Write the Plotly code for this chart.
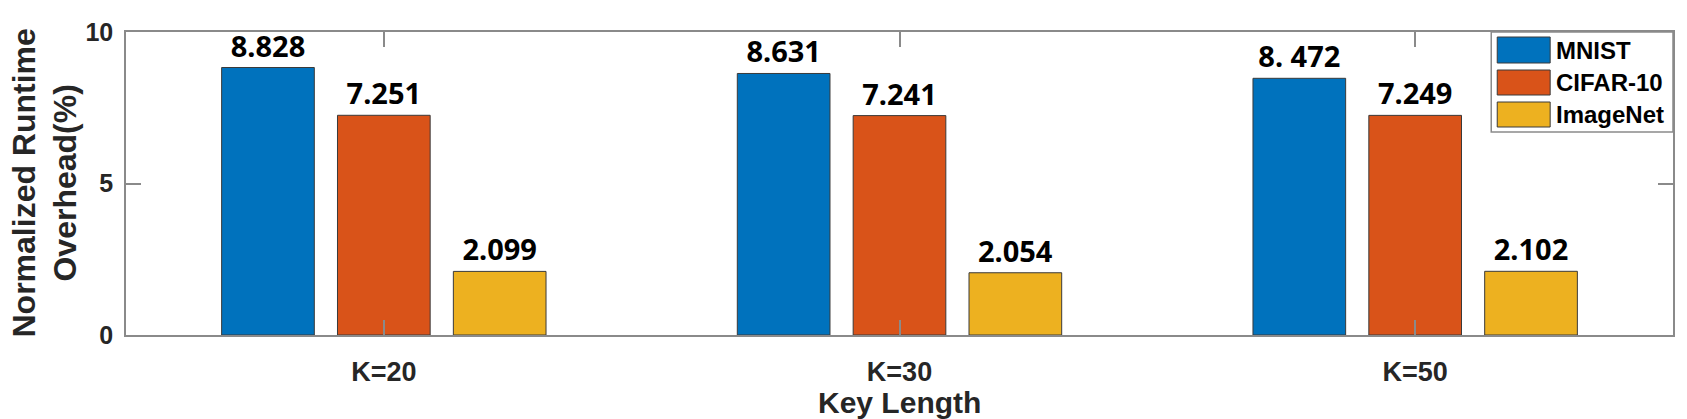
import plotly.graph_objects as go

categories = ["K=20", "K=30", "K=50"]
series_names = ["MNIST", "CIFAR-10", "ImageNet"]
mnist = [8.828, 8.631, 8.472]
cifar10 = [7.251, 7.241, 7.249]
imagenet = [2.099, 2.054, 2.102]
mnist_labels = ["8.828", "8.631", "8. 472"]
cifar10_labels = ["7.251", "7.241", "7.249"]
imagenet_labels = ["2.099", "2.054", "2.102"]
y_ticks = [0, 5, 10]

colors = ["#0072BD", "#D95319", "#EDB120"]

W, H = 1687, 419
L, R, T, B = 126, 1675, 32, 335  # plot area in pixels

def px_x(p):
    return (p - L) / (R - L)

def px_y(p):
    return (B - p) / (B - T)

fig = go.Figure()
xpos = [1, 2, 3]
for name, vals, labs, col in zip(series_names, [mnist, cifar10, imagenet],
                                 [mnist_labels, cifar10_labels, imagenet_labels], colors):
    fig.add_trace(go.Bar(
        x=xpos, y=vals, name=name, text=labs, textposition="outside",
        textfont=dict(family="Noto Sans", size=29, color="black", weight="bold"),
        marker=dict(color=col, line=dict(color="#3a3a3a", width=1)),
        cliponaxis=False, showlegend=False,
    ))

axis_common = dict(
    showline=True, linecolor="#8a8a8a", linewidth=1.5, mirror="ticks",
    ticks="inside", ticklen=15, tickwidth=1.5, tickcolor="#8a8a8a",
    showgrid=False, zeroline=False,
    tickfont=dict(family="Liberation Sans", size=25, color="#262626", weight="bold"),
)

fig.update_layout(
    width=W, height=H,
    margin=dict(l=L, r=W - R, t=T, b=H - B, pad=0),
    plot_bgcolor="white", paper_bgcolor="white",
    barmode="group", bargap=0.326, bargroupgap=0.2,
    xaxis=dict(**axis_common, range=[0.5, 3.5], tickmode="array",
               tickvals=xpos, ticktext=categories, ticklabelstandoff=12),
    yaxis=dict(**axis_common, range=[0, 10], tickmode="array",
               tickvals=y_ticks, ticktext=[str(v) for v in y_ticks], ticklabelstandoff=6),
)
fig.update_xaxes(tickfont=dict(size=27))

# axis titles
fig.add_annotation(text="<b>Key Length</b>", xref="paper", yref="paper",
                   x=0.5, y=0, yanchor="middle", yshift=-(402 - B), showarrow=False,
                   font=dict(family="Liberation Sans", size=30, color="#262626"))
fig.add_annotation(text="<b>Normalized Runtime<br>Overhead(%)</b>", xref="paper", yref="paper",
                   x=0, y=0.5, xanchor="center", yanchor="middle", xshift=44 - L,
                   textangle=-90, showarrow=False,
                   font=dict(family="Liberation Sans", size=32, color="#262626"))

# legend (manual, to match large swatches)
fig.add_shape(type="rect", xref="paper", yref="paper",
              x0=px_x(1493), x1=px_x(1675), y0=px_y(132), y1=px_y(32),
              line=dict(color="#8a8a8a", width=1.5), fillcolor="white", layer="above")
rows = [(37, 63), (70, 95), (102, 127)]
for (r0, r1), name, col in zip(rows, series_names, colors):
    fig.add_shape(type="rect", xref="paper", yref="paper",
                  x0=px_x(1499), x1=px_x(1552), y0=px_y(r1), y1=px_y(r0),
                  line=dict(color="#3a3a3a", width=1), fillcolor=col, layer="above")
    fig.add_annotation(text="<b>" + name + "</b>", xref="paper", yref="paper",
                       x=px_x(1556), y=px_y((r0 + r1) / 2), xanchor="left", yanchor="middle",
                       showarrow=False,
                       font=dict(family="Liberation Sans", size=24, color="black"))

fig.write_html("out.html", config={"displayModeBar": False},
               post_script="document.body.style.margin='0';document.body.style.overflow='hidden';")
